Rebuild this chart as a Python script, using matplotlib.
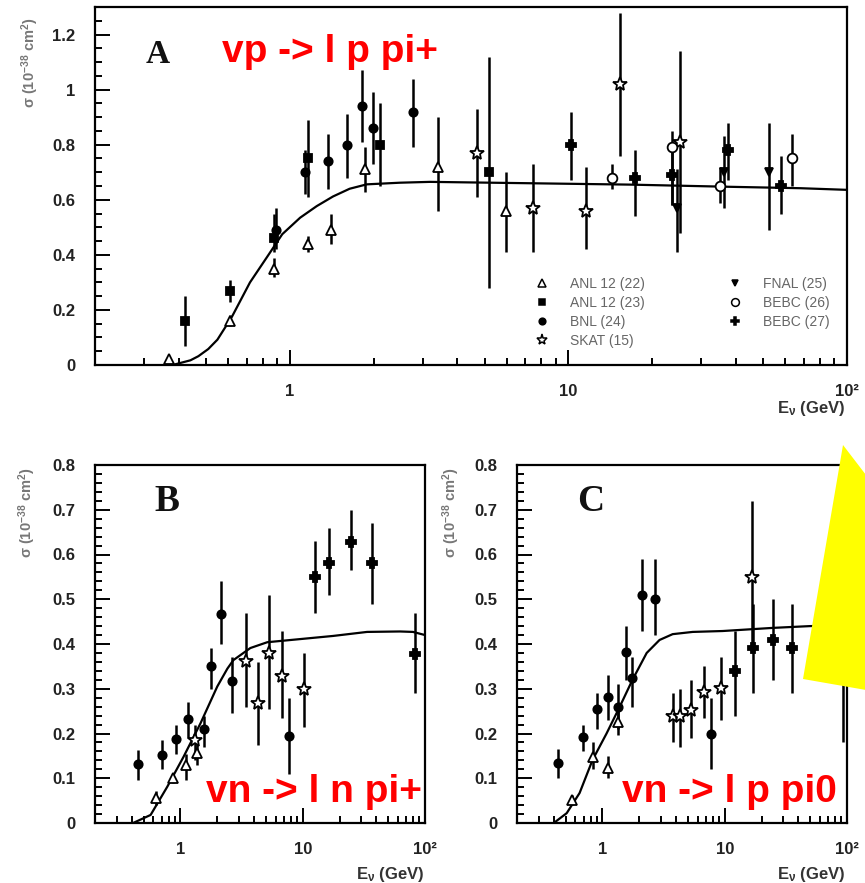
import matplotlib
matplotlib.use('Agg')
import matplotlib.pyplot as plt
from matplotlib.patches import Polygon
from matplotlib.lines import Line2D
from matplotlib.ticker import MultipleLocator, LogLocator, NullFormatter

plt.rcParams['font.family'] = ['Liberation Sans', 'DejaVu Sans']
plt.rcParams['mathtext.fontset'] = 'custom'
plt.rcParams['mathtext.rm'] = 'Liberation Sans'
plt.rcParams['mathtext.bf'] = 'Liberation Sans:bold'
plt.rcParams['mathtext.it'] = 'Liberation Sans:italic'

# ---- data: (E [GeV], sigma, error-bar low end, error-bar high end) ----
# panel A : vp -> l p pi+
A_anl22 = [(0.37, 0.02, 0.01, 0.03), (0.61, 0.16, 0.14, 0.18), (0.88, 0.35, 0.32, 0.39),
           (1.16, 0.44, 0.41, 0.47), (1.41, 0.49, 0.44, 0.55), (1.86, 0.71, 0.63, 0.79),
           (3.41, 0.72, 0.56, 0.90), (5.98, 0.56, 0.41, 0.70)]
A_anl23 = [(0.42, 0.16, 0.07, 0.25), (0.61, 0.27, 0.23, 0.31), (0.88, 0.46, 0.41, 0.55),
           (1.16, 0.75, 0.61, 0.89), (2.11, 0.80, 0.65, 0.95), (5.20, 0.70, 0.28, 1.12)]
A_bnl24 = [(0.89, 0.49, 0.42, 0.57), (1.13, 0.70, 0.62, 0.78), (1.37, 0.74, 0.64, 0.84),
           (1.60, 0.80, 0.68, 0.91), (1.81, 0.94, 0.81, 1.07), (1.99, 0.86, 0.73, 0.99),
           (2.77, 0.92, 0.79, 1.04)]
A_skat15 = [(4.71, 0.77, 0.61, 0.93), (7.48, 0.57, 0.41, 0.73), (11.6, 0.56, 0.42, 0.72),
            (15.3, 1.02, 0.76, 1.28), (25.1, 0.81, 0.48, 1.14)]
A_fnal25 = [(24.5, 0.57, 0.41, 0.71), (36.1, 0.70, 0.57, 0.83), (52.4, 0.70, 0.49, 0.88)]
A_bebc26 = [(14.4, 0.68, 0.64, 0.73), (23.5, 0.79, 0.58, 0.85), (34.9, 0.65, 0.59, 0.72),
            (63.4, 0.75, 0.65, 0.84)]
A_bebc27 = [(10.2, 0.80, 0.67, 0.92), (17.3, 0.68, 0.54, 0.78), (23.5, 0.69, 0.58, 0.78),
            (37.3, 0.78, 0.67, 0.88), (57.9, 0.65, 0.55, 0.76)]
A_curve_E = [0.38, 0.40, 0.44, 0.47, 0.51, 0.55, 0.62, 0.72, 0.83, 0.94, 1.09, 1.25, 1.43,
             1.64, 1.89, 2.49, 3.19, 16.7, 38.3, 68, 100]
A_curve_s = [0.0, 0.006, 0.017, 0.032, 0.058, 0.092, 0.175, 0.30, 0.393, 0.475, 0.535, 0.577,
             0.612, 0.64, 0.656, 0.662, 0.665, 0.655, 0.647, 0.642, 0.636]

# panel B : vn -> l n pi+
B_bnl = [(0.45, 0.132, 0.096, 0.163), (0.70, 0.152, 0.12, 0.185), (0.92, 0.188, 0.155, 0.22),
         (1.16, 0.232, 0.19, 0.27), (1.57, 0.21, 0.17, 0.24), (1.78, 0.35, 0.30, 0.39),
         (2.15, 0.467, 0.40, 0.54), (2.66, 0.317, 0.245, 0.37), (7.78, 0.195, 0.11, 0.28)]
B_anl = [(0.625, 0.056, 0.041, 0.071), (0.87, 0.10, 0.09, 0.11), (1.12, 0.13, 0.095, 0.155),
         (1.37, 0.157, 0.13, 0.19)]
B_skat = [(1.31, 0.185, 0.14, 0.22), (3.44, 0.362, 0.26, 0.47), (4.31, 0.268, 0.175, 0.36),
          (5.25, 0.38, 0.255, 0.51), (6.76, 0.328, 0.235, 0.43), (10.3, 0.30, 0.215, 0.38)]
B_bebc = [(12.7, 0.55, 0.47, 0.63), (16.5, 0.58, 0.51, 0.66), (24.7, 0.628, 0.565, 0.70),
          (37.1, 0.58, 0.49, 0.67), (82.8, 0.378, 0.29, 0.47)]
B_curve_E = [0.41, 0.57, 0.78, 1.06, 1.46, 2.0, 2.42, 2.71, 3.73, 5.13, 9.55, 17.7, 33.6,
             62.5, 79.8, 100]
B_curve_s = [0.0, 0.018, 0.081, 0.148, 0.223, 0.305, 0.345, 0.364, 0.391, 0.404, 0.411,
             0.418, 0.427, 0.428, 0.427, 0.42]

# panel C : vn -> l p pi0
C_bnl = [(0.43, 0.134, 0.10, 0.165), (0.69, 0.192, 0.16, 0.22), (0.91, 0.255, 0.21, 0.29),
         (1.12, 0.282, 0.23, 0.33), (1.33, 0.26, 0.21, 0.31), (1.57, 0.382, 0.32, 0.44),
         (1.76, 0.324, 0.26, 0.37), (2.09, 0.51, 0.43, 0.59), (2.67, 0.50, 0.42, 0.59),
         (7.67, 0.199, 0.12, 0.28)]
C_anl = [(0.56, 0.051, 0.04, 0.062), (0.84, 0.148, 0.12, 0.18), (1.12, 0.123, 0.10, 0.15),
         (1.35, 0.226, 0.196, 0.256)]
C_skat = [(3.75, 0.239, 0.18, 0.29), (4.28, 0.239, 0.17, 0.30), (5.26, 0.253, 0.19, 0.32),
          (6.76, 0.293, 0.235, 0.35), (9.27, 0.302, 0.23, 0.37), (16.6, 0.55, 0.39, 0.72)]
C_bebc = [(12.1, 0.34, 0.24, 0.43), (17.0, 0.39, 0.29, 0.49), (24.6, 0.41, 0.32, 0.50),
          (35.3, 0.39, 0.29, 0.49), (92, 0.33, 0.18, 0.45)]
C_curve_E = [0.40, 0.51, 0.65, 0.83, 1.08, 1.38, 1.76, 2.30, 2.93, 3.75, 5.47, 9.6, 24.7,
             49.8, 100]
C_curve_s = [0.0, 0.022, 0.067, 0.141, 0.20, 0.259, 0.32, 0.38, 0.409, 0.422, 0.427, 0.429,
             0.436, 0.44, 0.442]

legend_names = ['ANL 12 (22)', 'ANL 12 (23)', 'BNL (24)', 'SKAT (15)',
                'FNAL (25)', 'BEBC (26)', 'BEBC (27)']
A_yticks = [0, 0.2, 0.4, 0.6, 0.8, 1.0, 1.2]
A_ylabels = ['0', '0.2', '0.4', '0.6', '0.8', '1', '1.2']
BC_yticks = [0, 0.1, 0.2, 0.3, 0.4, 0.5, 0.6, 0.7, 0.8]
BC_ylabels = ['0', '0.1', '0.2', '0.3', '0.4', '0.5', '0.6', '0.7', '0.8']
x_ticks = [1, 10, 100]
x_labels = ['1', '10', '10²']

style = {
    'ANL 12 (22)': dict(marker='^', mfc='white', ms=7),
    'ANL 12 (23)': dict(marker='s', mfc='k', ms=5.5),
    'BNL (24)': dict(marker='o', mfc='k', ms=6),
    'SKAT (15)': dict(marker='*', mfc='white', ms=10),
    'FNAL (25)': dict(marker='v', mfc='k', ms=6),
    'BEBC (26)': dict(marker='o', mfc='white', ms=7),
    'BEBC (27)': dict(marker='P', mfc='k', ms=7.5),
}

W, H = 865, 883
fig = plt.figure(figsize=(W / 100, H / 100), dpi=100)


def box(x0, y0, x1, y1):
    return [x0 / W, 1 - y1 / H, (x1 - x0) / W, (y1 - y0) / H]


def fx(x):
    return x / W


def fy(y):
    return 1 - y / H


def draw(ax, series, cE, cs):
    ax.plot(cE, cs, color='k', lw=1.6, zorder=2)
    for name, pts in series:
        E = [p[0] for p in pts]
        s = [p[1] for p in pts]
        lo = [p[1] - p[2] for p in pts]
        hi = [p[3] - p[1] for p in pts]
        ax.errorbar(E, s, yerr=[lo, hi], fmt='none', ecolor='k', elinewidth=1.8, zorder=3)
        ax.plot(E, s, ls='none', color='k', mec='k', mew=1.3, zorder=4, **style[name])


def setup(ax, ymax, yticks, ylabels, yminor):
    ax.set_xscale('log')
    ax.set_xlim(0.2, 100)
    ax.set_ylim(0, ymax)
    ax.set_xticks(x_ticks, x_labels)
    ax.xaxis.set_minor_locator(LogLocator(base=10, subs=range(2, 10), numticks=20))
    ax.xaxis.set_minor_formatter(NullFormatter())
    ax.set_yticks(yticks, ylabels)
    ax.yaxis.set_minor_locator(MultipleLocator(yminor))
    for sp in ax.spines.values():
        sp.set_linewidth(1.6)
    ax.tick_params(which='both', direction='in', top=False, right=False, width=1.4,
                   labelsize=12, labelcolor='#222')
    ax.tick_params(which='major', length=11)
    ax.tick_params(which='minor', length=5)
    ax.tick_params(axis='y', pad=14)
    ax.tick_params(axis='x', pad=14)
    for lab in ax.get_xticklabels() + ax.get_yticklabels():
        lab.set_fontweight('bold')


axA = fig.add_axes(box(95, 7, 847, 365))
axB = fig.add_axes(box(95, 465, 425, 823))
axC = fig.add_axes(box(517, 465, 847, 823))

draw(axA, [('ANL 12 (22)', A_anl22), ('ANL 12 (23)', A_anl23), ('BNL (24)', A_bnl24),
           ('SKAT (15)', A_skat15), ('FNAL (25)', A_fnal25), ('BEBC (26)', A_bebc26),
           ('BEBC (27)', A_bebc27)], A_curve_E, A_curve_s)
draw(axB, [('ANL 12 (22)', B_anl), ('BNL (24)', B_bnl), ('SKAT (15)', B_skat),
           ('BEBC (27)', B_bebc)], B_curve_E, B_curve_s)
draw(axC, [('ANL 12 (22)', C_anl), ('BNL (24)', C_bnl), ('SKAT (15)', C_skat),
           ('BEBC (27)', C_bebc)], C_curve_E, C_curve_s)

setup(axA, 1.3, A_yticks, A_ylabels, 0.05)
setup(axB, 0.8, BC_yticks, BC_ylabels, 0.02)
setup(axC, 0.8, BC_yticks, BC_ylabels, 0.02)

handles = [Line2D([], [], ls='none', color='k', mec='k', mew=1.1,
                  **dict(style[n], ms=style[n]['ms'] * 0.8)) for n in legend_names]
axA.legend(handles, legend_names, ncol=2, loc='upper left', bbox_to_anchor=(0.585, 0.246),
           frameon=False, fontsize=10, handlelength=1.0, handletextpad=1.5,
           columnspacing=6.0, labelspacing=0.35, borderpad=0, borderaxespad=0,
           labelcolor='#666')

# axis titles
ylab = r'σ (10$^{\mathbf{-38}}$ cm$^{\mathbf{2}}$)'
for x, y in [(30, 17), (27, 467), (451, 467)]:
    fig.text(fx(x), fy(y), ylab, rotation=90, ha='center', va='top', fontsize=10.5,
             color='#777', fontweight='bold')
xlab = r'E$_{\mathbf{\nu}}$ (GeV)'
for x, y in [(845, 408), (424, 874), (845, 874)]:
    fig.text(fx(x), fy(y), xlab, ha='right', va='center', fontsize=12,
             color='#333', fontweight='bold')

# panel letters
for letter, x, y, fs in [('A', 146, 63, 24), ('B', 154, 511, 27), ('C', 577, 511, 27)]:
    fig.text(fx(x), fy(y), letter, ha='left', va='baseline', fontsize=fs,
             fontweight='bold', family='Liberation Serif', color='#111')

# red reaction labels
for txt, x, y in [('vp -> l p pi+', 222, 62), ('vn -> l n pi+', 206, 802),
                  ('vn -> l p pi0', 622, 802)]:
    fig.text(fx(x), fy(y), txt, ha='left', va='baseline', fontsize=28,
             fontweight='bold', color='#ff0000')

# yellow shape at the right edge
fig.add_artist(Polygon([(fx(843), fy(445)), (fx(866), fy(475)), (fx(866), fy(690)),
                        (fx(803), fy(679))], closed=True, transform=fig.transFigure,
                       facecolor='#ffff00', edgecolor='none', zorder=10))

fig.savefig('out.png', dpi=100)
